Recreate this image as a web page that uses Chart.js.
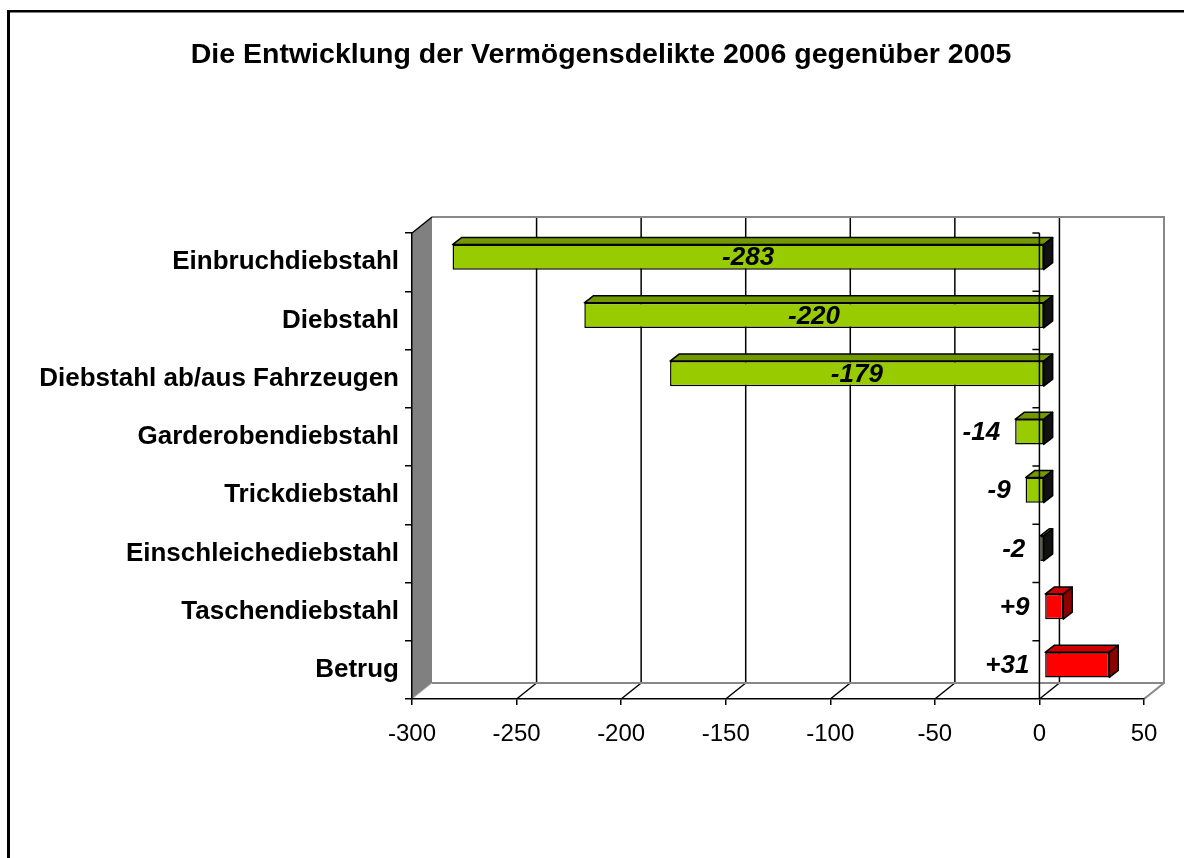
<!DOCTYPE html>
<html>
<head>
<meta charset="utf-8">
<script src="https://cdn.jsdelivr.net/npm/chart.js@4"></script>
<style>
  body { margin: 0; background: #fff; }
  canvas { display: block; }
</style>
</head>
<body>
<canvas id="deliktChart" width="1184" height="858"></canvas>
<script>
// Categories and changes 2006 vs 2005
const categories = [
    'Einbruchdiebstahl',
    'Diebstahl',
    'Diebstahl ab/aus Fahrzeugen',
    'Garderobendiebstahl',
    'Trickdiebstahl',
    'Einschleichediebstahl',
    'Taschendiebstahl',
    'Betrug'
];
const changes = [-283, -220, -179, -14, -9, -2, 9, 31];
const xTickValues = [-300, -250, -200, -150, -100, -50, 0, 50];
const chartTitle = 'Die Entwicklung der Vermögensdelikte 2006 gegenüber 2005';

const fontFamily = '"Liberation Sans", Arial, sans-serif';

// fake 3D offsets
const wallDepth = { dx: 20, dy: -16 };
const barDepth = { dx: 9, dy: -7 };
const barShift = { dx: 5, dy: -5 };

const barColor = v => v < 0 ? '#99CC00' : '#FF0000';
const topColor = v => v < 0 ? '#739900' : '#CC0000';
const sideColor = v => v < 0 ? '#111111' : '#8B0000';
const fmt = v => (v > 0 ? '+' : '') + v;

function line(ctx, x1, y1, x2, y2) {
    ctx.beginPath();
    ctx.moveTo(x1, y1);
    ctx.lineTo(x2, y2);
    ctx.stroke();
}

// walls, floor and gridlines on the back plane
const frame3d = {
    id: 'frame3d',
    beforeDraw(chart) {
        const { ctx, chartArea: a, scales: { x } } = chart;
        const d = wallDepth;
        ctx.save();

        // outer border of the picture
        ctx.fillStyle = '#000';
        ctx.fillRect(7, 10, 3, chart.height);
        ctx.fillRect(7, 10, chart.width, 2.5);

        // title
        ctx.font = 'bold 28.5px ' + fontFamily;
        ctx.textAlign = 'center';
        ctx.textBaseline = 'middle';
        ctx.fillText(chartTitle, 601, 55);

        // gridlines on back wall
        ctx.strokeStyle = '#000';
        ctx.lineWidth = 1.5;
        xTickValues.slice(1, -1).forEach(v => {
            const px = x.getPixelForValue(v) + d.dx;
            line(ctx, px, a.top + d.dy, px, a.bottom + d.dy);
        });
        // floor diagonals
        xTickValues.slice(1, -1).forEach(v => {
            const px = x.getPixelForValue(v);
            line(ctx, px, a.bottom, px + d.dx, a.bottom + d.dy);
        });

        // back wall outline + floor edges
        ctx.strokeStyle = '#888';
        ctx.lineWidth = 2;
        ctx.beginPath();
        ctx.moveTo(a.left + d.dx, a.top + d.dy);
        ctx.lineTo(a.right + d.dx, a.top + d.dy);
        ctx.lineTo(a.right + d.dx, a.bottom + d.dy);
        ctx.lineTo(a.right, a.bottom);
        ctx.stroke();
        line(ctx, a.left + d.dx, a.bottom + d.dy, a.right + d.dx, a.bottom + d.dy);

        // left side wall
        ctx.fillStyle = '#808080';
        ctx.beginPath();
        ctx.moveTo(a.left, a.top);
        ctx.lineTo(a.left + d.dx, a.top + d.dy);
        ctx.lineTo(a.left + d.dx, a.bottom + d.dy);
        ctx.lineTo(a.left, a.bottom);
        ctx.closePath();
        ctx.fill();
        ctx.strokeStyle = '#000';
        ctx.lineWidth = 1.5;
        line(ctx, a.left, a.top, a.left + d.dx, a.top + d.dy);
        ctx.strokeStyle = '#bbb';
        ctx.lineWidth = 1;
        line(ctx, a.left, a.bottom, a.left + d.dx, a.bottom + d.dy);
        ctx.restore();
    },
    beforeDatasetsDraw(chart) {
        chart.ctx.save();
        chart.ctx.translate(barShift.dx, barShift.dy);
    },
    afterDatasetsDraw(chart) {
        const { ctx, chartArea: a, scales: { x } } = chart;
        const meta = chart.getDatasetMeta(0);
        const d = barDepth;

        // top and side faces of each bar
        ctx.lineWidth = 1.5;
        ctx.strokeStyle = '#000';
        ctx.lineJoin = 'round';
        meta.data.forEach((bar, i) => {
            const v = changes[i];
            const left = Math.min(bar.x, bar.base);
            const right = Math.max(bar.x, bar.base);
            const top = bar.y - bar.height / 2;
            const bottom = bar.y + bar.height / 2;

            ctx.fillStyle = topColor(v);
            ctx.beginPath();
            ctx.moveTo(left, top);
            ctx.lineTo(left + d.dx, top + d.dy);
            ctx.lineTo(right + d.dx, top + d.dy);
            ctx.lineTo(right, top);
            ctx.closePath();
            ctx.fill();
            ctx.stroke();

            ctx.fillStyle = sideColor(v);
            ctx.beginPath();
            ctx.moveTo(right, top);
            ctx.lineTo(right + d.dx, top + d.dy);
            ctx.lineTo(right + d.dx, bottom + d.dy);
            ctx.lineTo(right, bottom);
            ctx.closePath();
            ctx.fill();
            ctx.stroke();
        });

        // value labels
        ctx.fillStyle = '#000';
        ctx.font = 'italic bold 26px ' + fontFamily;
        ctx.textBaseline = 'middle';
        const zero = x.getPixelForValue(0);
        meta.data.forEach((bar, i) => {
            const left = Math.min(bar.x, bar.base);
            const right = Math.max(bar.x, bar.base);
            if (right - left > 100) {
                ctx.textAlign = 'center';
                ctx.fillText(fmt(changes[i]), (left + right) / 2, bar.y + 1);
            } else {
                ctx.textAlign = 'right';
                ctx.fillText(fmt(changes[i]), Math.min(left, zero) - 15, bar.y + 1);
            }
        });
        ctx.restore();

        // axis at zero on the front plane, with its ticks
        ctx.save();
        ctx.strokeStyle = '#000';
        ctx.lineWidth = 1.5;
        line(ctx, zero, a.top, zero, a.bottom);
        const step = (a.bottom - a.top) / categories.length;
        for (let k = 0; k < categories.length; k++) {
            const ty = a.top + k * step;
            line(ctx, zero - 7, ty, zero, ty);
        }
        ctx.restore();
    }
};

const ctx = document.getElementById('deliktChart').getContext('2d');

const data = {
    labels: categories,
    datasets: [{
        data: changes,
        backgroundColor: changes.map(barColor),
        borderColor: '#000',
        borderWidth: 1.5,
        borderSkipped: false,
        barPercentage: 0.43,
        categoryPercentage: 1
    }]
};

const config = {
    type: 'bar',
    data: data,
    options: {
        indexAxis: 'y',
        responsive: false,
        animation: false,
        layout: { padding: { left: 0, right: 40, top: 233, bottom: 0 } },
        scales: {
            x: {
                min: -300,
                max: 50,
                ticks: {
                    stepSize: 50,
                    color: '#000',
                    padding: 15,
                    font: { family: fontFamily, size: 24 }
                },
                grid: { drawOnChartArea: false, color: '#000', lineWidth: 1.5, tickLength: 6 },
                border: { display: true, color: '#000', width: 1.5 },
                afterFit(scale) { scale.height = 159; }
            },
            y: {
                ticks: {
                    color: '#000',
                    padding: 6,
                    font: { family: fontFamily, size: 26, weight: 'bold' }
                },
                grid: { offset: true, drawOnChartArea: false, color: '#000', lineWidth: 1.5, tickLength: 7 },
                border: { display: true, color: '#000', width: 1.5 },
                afterFit(scale) { scale.width = 412; }
            }
        },
        plugins: {
            legend: { display: false },
            tooltip: { enabled: false },
            title: { display: false }
        }
    },
    plugins: [frame3d]
};

const deliktChart = new Chart(ctx, config);
</script>
</body>
</html>
